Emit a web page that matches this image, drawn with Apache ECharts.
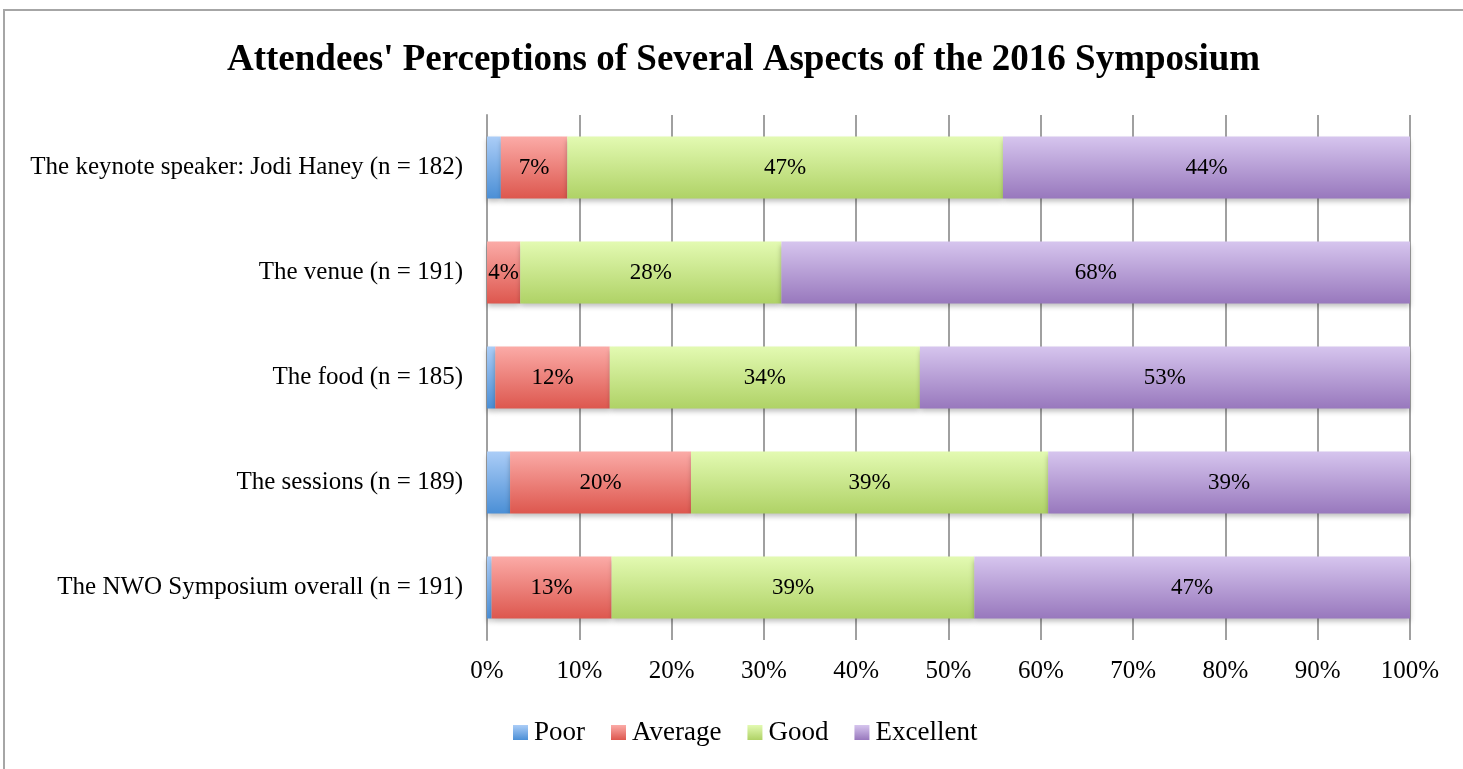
<!DOCTYPE html>
<html><head><meta charset="utf-8">
<script src="https://cdn.jsdelivr.net/npm/echarts@6/dist/echarts.min.js"></script>
<style>
html,body{margin:0;padding:0;background:#fff;overflow:hidden}
#frame{position:absolute;left:3px;top:9px;width:1500px;height:800px;border:2px solid #a6a6a6;box-sizing:border-box}
#c{position:absolute;left:0;top:0;width:1463px;height:769px}
</style></head>
<body><div id="frame"></div><div id="c"></div>
<script>
const categories = ["The keynote speaker: Jodi Haney (n = 182)","The venue (n = 191)","The food (n = 185)","The sessions (n = 189)","The NWO Symposium overall (n = 191)"];
const poor = [1.5, 0, 0.9, 2.5, 0.5];
const average = [7.2, 3.6, 12.4, 19.6, 13.0];
const good = [47.2, 28.3, 33.6, 38.7, 39.3];
const excellent = [44.1, 68.1, 53.1, 39.2, 47.2];
const seriesNames = ["Poor","Average","Good","Excellent"];
const xTicks = [0,10,20,30,40,50,60,70,80,90,100];

const FONT = "Liberation Serif";
function grad(a,b){return new echarts.graphic.LinearGradient(0,0,0,1,[{offset:0,color:a},{offset:1,color:b}]);}
const colors = [["#abcdf7","#4b8fd6"],["#fbaba7","#dd574e"],["#e3fab2","#afd266"],["#d6c5ee","#9878bd"]];
const data = [poor, average, good, excellent];
const chart = echarts.init(document.getElementById('c'));
chart.setOption({
  animation:false,
  title:{text:"Attendees' Perceptions of Several Aspects of the 2016 Symposium",left:222,top:37,
    textStyle:{fontFamily:FONT,fontWeight:'bold',fontSize:37,color:'#000'}},
  legend:{bottom:18,left:508,itemWidth:15,itemHeight:15,itemGap:26,icon:'rect',
    textStyle:{fontFamily:FONT,fontSize:27,color:'#000',padding:[0,0,0,1]},data:seriesNames},
  grid:{left:487,right:53,top:115,bottom:129,containLabel:false},
  xAxis:{type:'value',min:0,max:100,interval:10,
    axisLabel:{formatter:v=>v+'%',fontFamily:FONT,fontSize:25,color:'#000',margin:19},
    axisLine:{show:false},axisTick:{show:false},
    splitLine:{show:true,lineStyle:{color:'#a0a0a0',width:2}}},
  yAxis:{type:'category',data:categories,inverse:true,
    axisLabel:{fontFamily:FONT,fontSize:25,color:'#000',margin:24},
    axisLine:{show:true,lineStyle:{color:'#a0a0a0',width:2}},axisTick:{show:false}},
  series: seriesNames.map((n,i)=>({
    name:n,type:'bar',stack:'total',barWidth:62,data:data[i],
    itemStyle:{color:grad(colors[i][0],colors[i][1]),shadowColor:'rgba(0,0,0,0.25)',shadowBlur:5,shadowOffsetY:3},
    label:{show:i>0,position:'inside',formatter:p=>Math.round(p.value)+'%',fontFamily:FONT,fontSize:23,color:'#000'}
  }))
});
</script></body></html>
